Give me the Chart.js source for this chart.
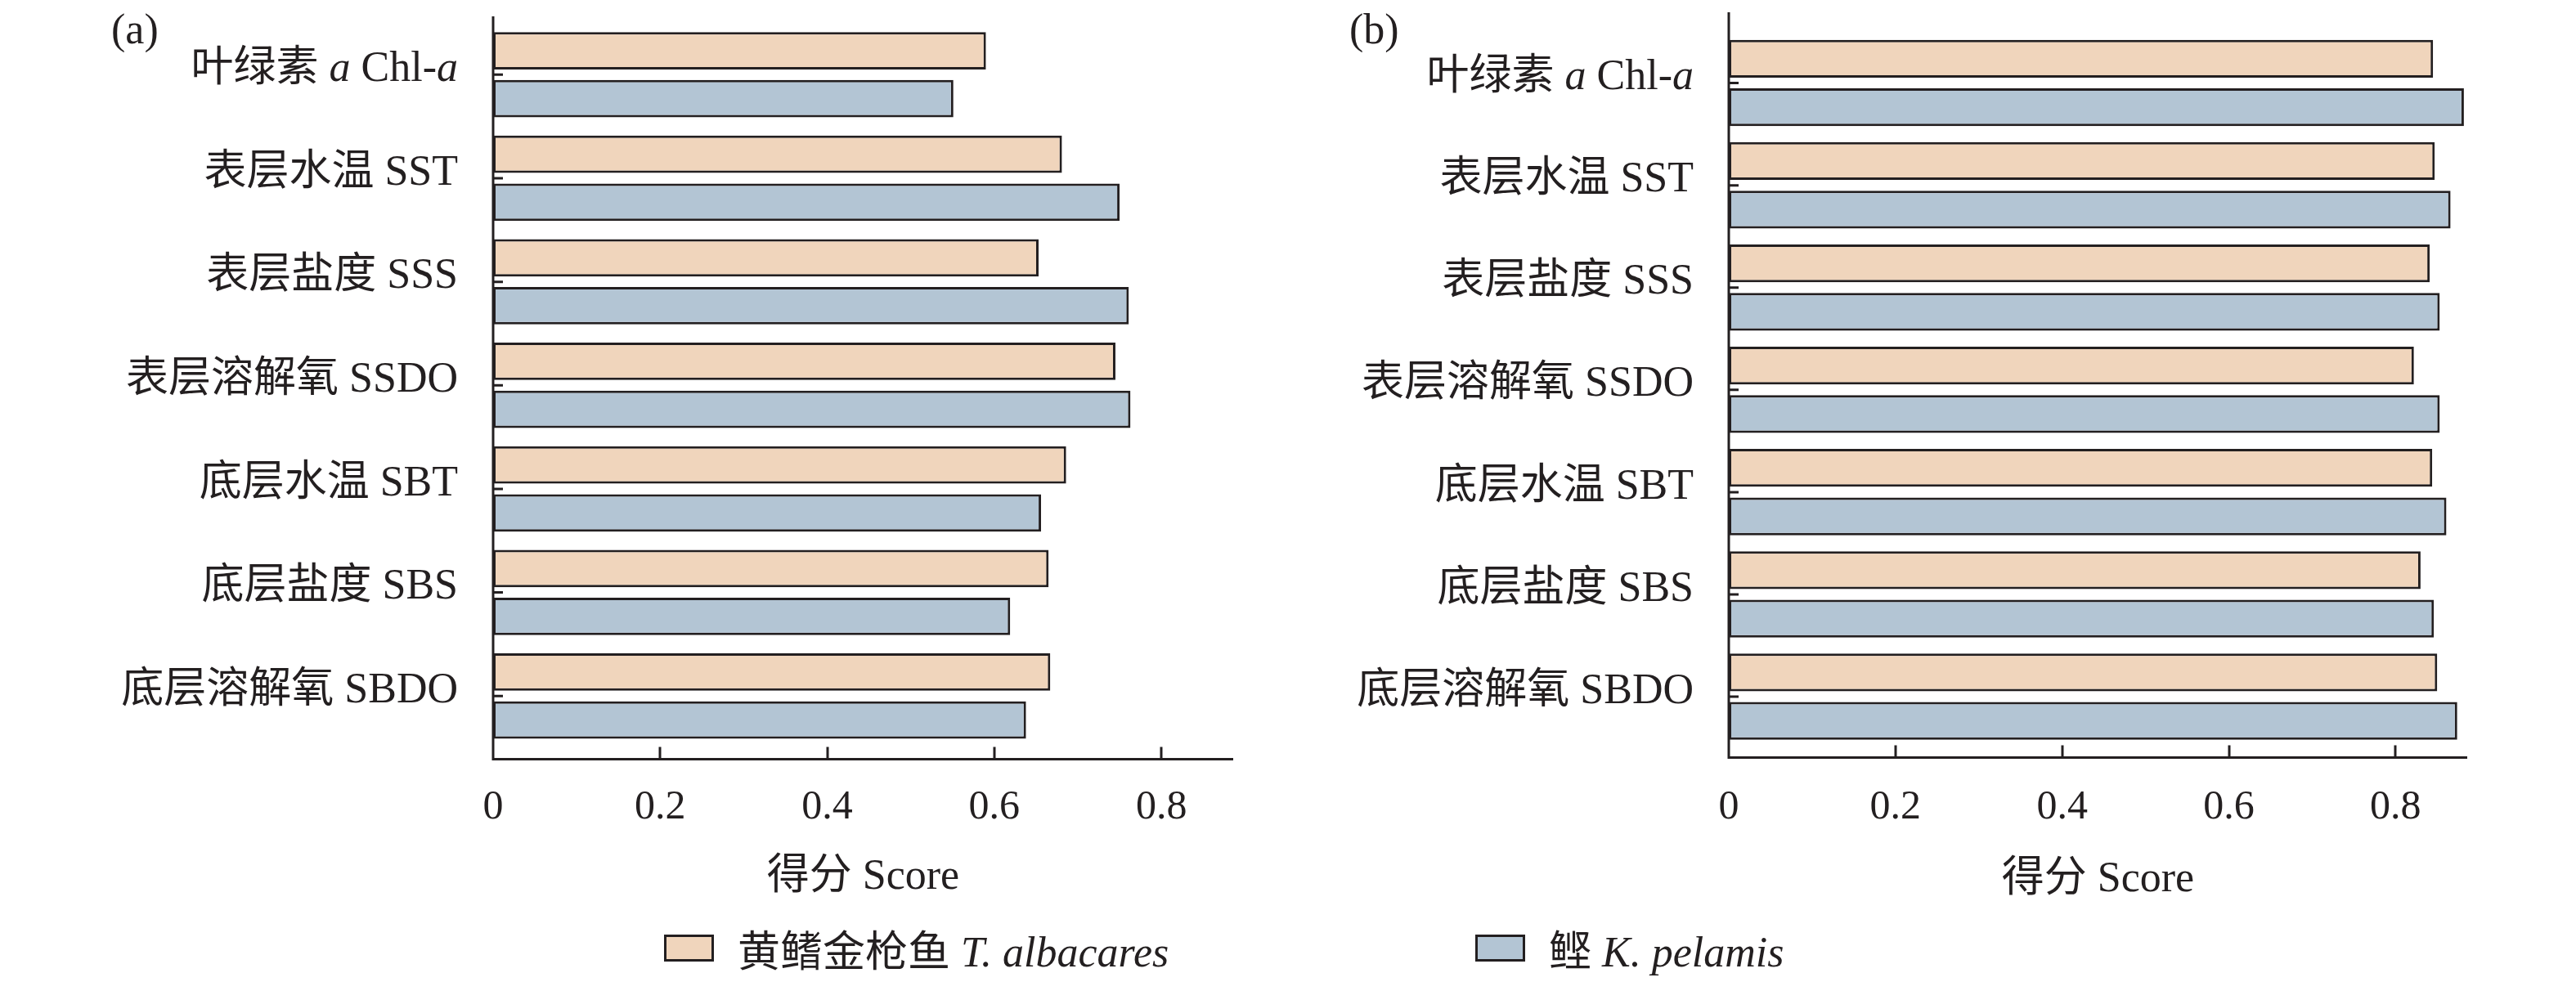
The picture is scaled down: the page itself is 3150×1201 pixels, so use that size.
<!DOCTYPE html>
<html>
<head>
    <title>Score bars</title>
    <script src="https://cdn.jsdelivr.net/npm/chart.js"></script>
    <style>
        body {
            margin: 0;
            background: white;
            width: 3150px;
            height: 1201px;
            overflow: hidden;
            position: relative;
            font-family: "Liberation Serif", "Noto Sans CJK SC", serif;
            color: #231f20;
        }
        canvas { position: absolute; top: 0; }
        #chart-a { left: 0; }
        #chart-b { left: 1575px; }
        .panel-tag {
            position: absolute;
            font-size: 52px;
            line-height: 60px;
            top: 6px;
        }
        .legend-item {
            position: absolute;
            top: 1129px;
            height: 60px;
            display: flex;
            align-items: center;
            font-size: 52px;
            white-space: nowrap;
        }
        .legend-box {
            width: 55px;
            height: 27px;
            border: 3px solid #231f20;
            margin-right: 29px;
        }
    </style>
</head>
<body>
    <canvas id="chart-a" width="1575" height="1201"></canvas>
    <canvas id="chart-b" width="1575" height="1201"></canvas>
    <div class="panel-tag" style="left:136px;">(a)</div>
    <div class="panel-tag" style="left:1650px;">(b)</div>
    <div class="legend-item" id="legend-a" style="left:812px;"></div>
    <div class="legend-item" id="legend-b" style="left:1804px;"></div>

    <script>
        // categories (*...* = italic part)
        const categories = ['叶绿素 *a* Chl-*a*', '表层水温 SST', '表层盐度 SSS', '表层溶解氧 SSDO',
                            '底层水温 SBT', '底层盐度 SBS', '底层溶解氧 SBDO'];
        const seriesNames = ['黄鳍金枪鱼 *T. albacares*', '鲣 *K. pelamis*'];
        const seriesColors = ['#f0d5bc', '#b3c5d4'];

        // panel (a)
        const tunaA = [0.590, 0.681, 0.653, 0.745, 0.686, 0.665, 0.667];
        const skipjackA = [0.551, 0.750, 0.761, 0.763, 0.656, 0.619, 0.638];
        // panel (b)
        const tunaB = [0.845, 0.847, 0.841, 0.822, 0.844, 0.830, 0.850];
        const skipjackB = [0.882, 0.866, 0.853, 0.853, 0.861, 0.846, 0.874];

        const xTicks = [0, 0.2, 0.4, 0.6, 0.8];
        const xTickLabels = ['0', '0.2', '0.4', '0.6', '0.8'];
        const xMax = 0.886;
        const axisTitle = '得分 Score';

        const ink = '#231f20';
        const fontFamily = '"Liberation Serif", "Noto Sans CJK SC", serif';

        function plain(s) { return s.replace(/\*/g, ''); }

        // draw text with *italic* parts, right aligned at x
        function drawRich(ctx, text, x, y, size) {
            const parts = text.split('*').map((t, i) => ({ t: t, it: i % 2 === 1 })).filter(p => p.t);
            let total = 0;
            parts.forEach(p => {
                ctx.font = (p.it ? 'italic ' : '') + size + 'px ' + fontFamily;
                p.w = ctx.measureText(p.t).width;
                total += p.w;
            });
            let cx = x - total;
            parts.forEach(p => {
                ctx.font = (p.it ? 'italic ' : '') + size + 'px ' + fontFamily;
                ctx.fillText(p.t, cx, y);
                cx += p.w;
            });
        }

        // axis lines, inward ticks and category labels
        const decor = {
            id: 'decor',
            afterDraw(chart, args, opts) {
                const ctx = chart.ctx;
                const area = chart.chartArea;
                const xs = chart.scales.x, ys = chart.scales.y;
                const axisY = area.bottom + opts.below;
                ctx.save();
                ctx.strokeStyle = ink;
                ctx.lineWidth = 3;
                ctx.beginPath();
                ctx.moveTo(area.left, area.top - opts.above);
                ctx.lineTo(area.left, axisY);
                ctx.lineTo(area.right, axisY);
                xs.ticks.forEach(t => {
                    if (t.value === 0) return;
                    const px = Math.round(xs.getPixelForValue(t.value));
                    ctx.moveTo(px, axisY);
                    ctx.lineTo(px, axisY - 15);
                });
                ctx.stroke();
                ctx.beginPath();
                ys.ticks.forEach((t, i) => {
                    const py = ys.getPixelForTick(i);
                    ctx.moveTo(area.left, py);
                    ctx.lineTo(area.left + 12, py);
                });
                ctx.stroke();
                ctx.fillStyle = ink;
                ctx.textBaseline = 'middle';
                ctx.textAlign = 'left';
                ys.ticks.forEach((t, i) => {
                    drawRich(ctx, categories[i], area.left - 43, ys.getPixelForTick(i) - 6, 52);
                });
                ctx.restore();
            }
        };

        function makeChart(id, tuna, skipjack, pad, catPct, decorOpts, tickPad, titlePad) {
            return new Chart(document.getElementById(id), {
                type: 'bar',
                data: {
                    labels: categories.map(plain),
                    datasets: [{
                        label: plain(seriesNames[0]),
                        data: tuna,
                        backgroundColor: seriesColors[0],
                        borderColor: ink,
                        borderWidth: 3,
                        borderSkipped: false
                    }, {
                        label: plain(seriesNames[1]),
                        data: skipjack,
                        backgroundColor: seriesColors[1],
                        borderColor: ink,
                        borderWidth: 3,
                        borderSkipped: false
                    }]
                },
                options: {
                    indexAxis: 'y',
                    responsive: false,
                    animation: false,
                    categoryPercentage: catPct,
                    barPercentage: 0.78,
                    layout: { padding: pad },
                    plugins: {
                        legend: { display: false },
                        tooltip: { enabled: false },
                        decor: decorOpts
                    },
                    scales: {
                        y: { display: false },
                        x: {
                            min: 0,
                            max: xMax,
                            afterBuildTicks: s => { s.ticks = xTicks.map(v => ({ value: v })); },
                            grid: { display: false, drawTicks: false },
                            border: { display: false },
                            ticks: {
                                padding: tickPad,
                                color: ink,
                                font: { family: fontFamily, size: 50 },
                                callback: (v, i) => xTickLabels[i]
                            },
                            title: {
                                display: true,
                                text: axisTitle,
                                color: ink,
                                padding: { top: titlePad, bottom: 0 },
                                font: { family: fontFamily, size: 52 }
                            }
                        }
                    }
                },
                plugins: [decor]
            });
        }

        makeChart('chart-a', tunaA, skipjackA,
            { left: 603, right: 67, top: 28, bottom: 96 }, 0.926,
            { above: 8, below: 14 }, 43, -18);
        makeChart('chart-b', tunaB, skipjackB,
            { left: 539, right: 133, top: 39, bottom: 93 }, 0.948,
            { above: 24, below: 12 }, 43, -15);

        // legend
        function richHtml(s) {
            return s.split('*').map((t, i) => i % 2 ? '<i>' + t + '</i>' : t).join('');
        }
        ['legend-a', 'legend-b'].forEach((id, i) => {
            document.getElementById(id).innerHTML =
                '<span class="legend-box" style="background:' + seriesColors[i] + '"></span>' +
                '<span>' + richHtml(seriesNames[i]) + '</span>';
        });
    </script>
</body>
</html>
